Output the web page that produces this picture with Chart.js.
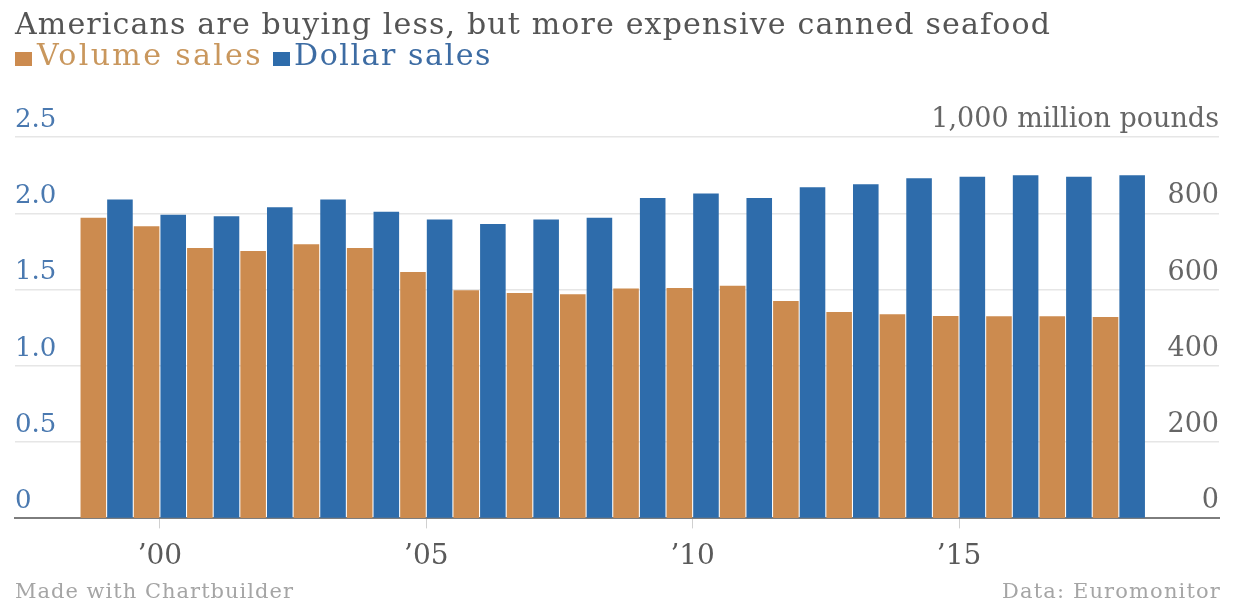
<!DOCTYPE html>
<html>
<head>
<meta charset="utf-8">
<script src="https://cdn.jsdelivr.net/npm/chart.js@4.4.1/dist/chart.umd.min.js"></script>
<style>
  body { margin: 0; background: #fff; font-family: 'DejaVu Serif', serif; }
  #wrap { position: relative; width: 1236px; height: 605px; overflow: hidden; }
  #chart { position: absolute; left: 0; top: 0; }
  .txt { position: absolute; white-space: nowrap; line-height: 1; }
  .key { position: absolute; width: 17px; height: 14px; }
  #title { left: 15px; top: 9px; font-size: 30px; color: #555; }
  .legendText { top: 40px; font-size: 30px; }
  .foot { top: 581px; font-size: 21px; color: #a5a5a5; }
</style>
</head>
<body>
<div id="wrap">
  <canvas id="chart" width="1236" height="605"></canvas>
  <div id="title" class="txt">Americans are buying less, but more expensive canned seafood</div>
  <div id="key0" class="key" style="left:15px;top:52px"></div>
  <div id="label0" class="txt legendText" style="left:37px"></div>
  <div id="key1" class="key" style="left:273px;top:52px"></div>
  <div id="label1" class="txt legendText" style="left:294px"></div>
  <div id="credit" class="txt foot" style="left:15px">Made with Chartbuilder</div>
  <div id="source" class="txt foot" style="left:1002px">Data: Euromonitor</div>
</div>
<script>
const years = [1999, 2000, 2001, 2002, 2003, 2004, 2005, 2006, 2007, 2008,
               2009, 2010, 2011, 2012, 2013, 2014, 2015, 2016, 2017, 2018];
// million pounds (right axis)
const volumeSales = [788, 766, 709, 701, 719, 709, 646, 598, 591, 588,
                     603, 604, 610, 570, 541, 535, 531, 530, 530, 528];
// billion dollars (left axis)
const dollarSales = [2.09, 1.99, 1.98, 2.04, 2.09, 2.01, 1.96, 1.93, 1.96, 1.97,
                     2.10, 2.13, 2.10, 2.17, 2.19, 2.23, 2.24, 2.25, 2.24, 2.25];

const seriesNames = ['Volume sales', 'Dollar sales'];
const xTickYears = [2000, 2005, 2010, 2015];
const xTickLabels = ['\u201900', '\u201905', '\u201910', '\u201915'];
const leftTickLabels = ['0', '0.5', '1.0', '1.5', '2.0', '2.5'];
const rightTickLabels = ['0', '200', '400', '600', '800', '1,000 million pounds'];

const orange = '#cc8b4f';
const blue = '#2e6cab';

// html legend, stretched to the reference widths
function fitWidth(el, width) {
    el.style.letterSpacing = '0px';
    const natural = el.getBoundingClientRect().width;
    el.style.letterSpacing = ((width - natural) / el.textContent.length) + 'px';
}

document.getElementById('key0').style.background = orange;
document.getElementById('key1').style.background = blue;
const label0 = document.getElementById('label0');
const label1 = document.getElementById('label1');
label0.textContent = seriesNames[0];
label0.style.color = '#c9975d';
label1.textContent = seriesNames[1];
label1.style.color = '#3d6ca3';
fitWidth(document.getElementById('title'), 1036);
fitWidth(label0, 226);
fitWidth(label1, 198);
fitWidth(document.getElementById('credit'), 279);
fitWidth(document.getElementById('source'), 219);

const ctx = document.getElementById('chart').getContext('2d');

new Chart(ctx, {
    type: 'bar',
    data: {
        labels: years,
        datasets: [{
            label: seriesNames[0],
            data: volumeSales,
            yAxisID: 'yRight',
            backgroundColor: orange,
            borderWidth: 0,
            categoryPercentage: 1.0,
            barPercentage: 0.96
        }, {
            label: seriesNames[1],
            data: dollarSales,
            yAxisID: 'yLeft',
            backgroundColor: blue,
            borderWidth: 0,
            categoryPercentage: 1.0,
            barPercentage: 0.96
        }]
    },
    options: {
        responsive: false,
        animation: false,
        events: [],
        layout: {
            padding: { left: 15, right: 17, top: 137, bottom: 19 }
        },
        plugins: {
            legend: { display: false },
            tooltip: { enabled: false }
        },
        scales: {
            x: {
                type: 'linear',
                offset: false,
                min: 1997.28,
                max: 2019.88,
                afterBuildTicks: axis => {
                    axis.ticks = xTickYears.map(v => ({ value: v }));
                },
                grid: {
                    offset: false,
                    drawOnChartArea: false,
                    drawTicks: true,
                    tickLength: 10,
                    color: '#d0d0d0',
                    lineWidth: 1
                },
                border: { display: true, color: '#7d7d7d', width: 2 },
                ticks: {
                    padding: 12,
                    color: '#5a5a5a',
                    font: { family: 'DejaVu Serif', size: 28 },
                    maxRotation: 0,
                    callback: (value, index) => xTickLabels[index]
                }
            },
            yLeft: {
                position: 'left',
                min: 0,
                max: 2.5,
                ticks: {
                    stepSize: 0.5,
                    mirror: true,
                    padding: 0,
                    labelOffset: -17,
                    color: '#4a79b0',
                    font: { family: 'DejaVu Serif', size: 26 },
                    callback: (value, index) => leftTickLabels[index]
                },
                grid: {
                    drawTicks: false,
                    color: c => c.tick.value === 0 ? 'rgba(0,0,0,0)' : '#e6e6e6',
                    lineWidth: 1.5
                },
                border: { display: false }
            },
            yRight: {
                position: 'right',
                min: 0,
                max: 1000,
                ticks: {
                    stepSize: 200,
                    mirror: true,
                    padding: 0,
                    labelOffset: -17,
                    color: '#666',
                    font: { family: 'DejaVu Serif', size: 27 },
                    callback: (value, index) => rightTickLabels[index]
                },
                grid: { drawOnChartArea: false, drawTicks: false },
                border: { display: false }
            }
        }
    }
});
</script>
</body>
</html>
